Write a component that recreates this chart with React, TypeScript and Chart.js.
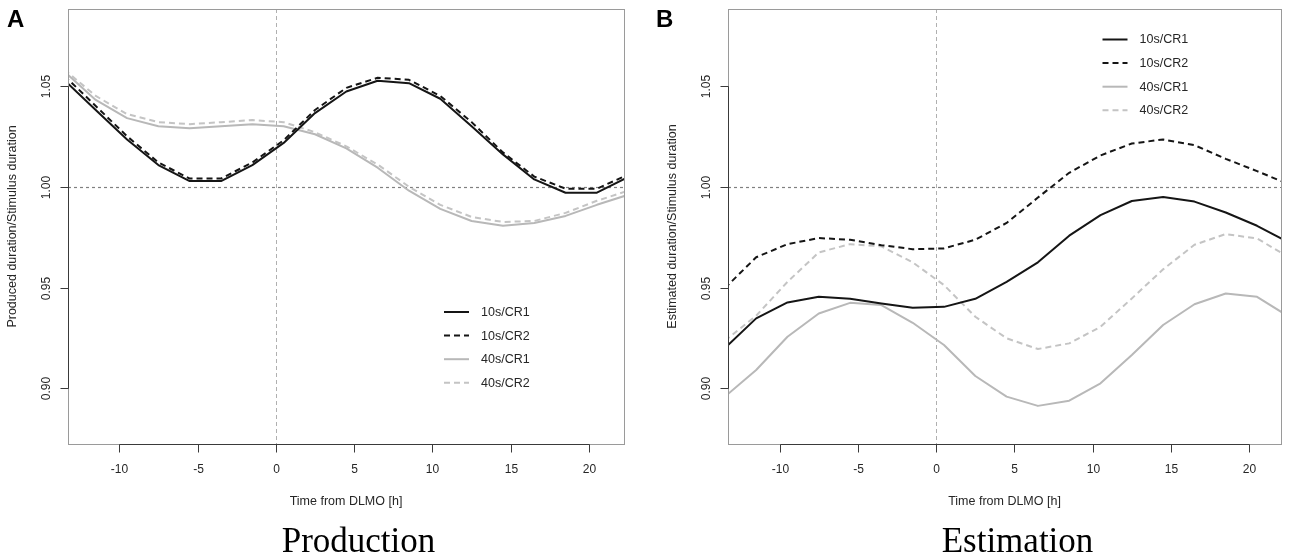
import { useEffect, useRef } from "react";
import Chart from "chart.js/auto";

// hours relative to DLMO where the fitted curves have their vertices
const hours = [-13.5, -11.5, -9.5, -7.5, -5.5, -3.5, -1.5, 0.5, 2.5, 4.5, 6.5, 8.5, 10.5, 12.5, 14.5, 16.5, 18.5, 20.5, 22.5];

const seriesLabels = ["10s/CR1", "10s/CR2", "40s/CR1", "40s/CR2"];

// Production panel (A)
const prod10CR1 = [1.0528, 1.038, 1.0234, 1.0107, 1.0028, 1.0028, 1.0107, 1.0217, 1.0365, 1.0472, 1.0525, 1.0513, 1.0436, 1.030, 1.016, 1.0036, 0.997, 0.997, 1.0048];
const prod10CR2 = [1.055, 1.040, 1.025, 1.012, 1.004, 1.004, 1.012, 1.023, 1.038, 1.049, 1.054, 1.053, 1.045, 1.032, 1.017, 1.005, 0.999, 0.999, 1.006];
const prod40CR1 = [1.057, 1.043, 1.034, 1.030, 1.029, 1.030, 1.031, 1.030, 1.026, 1.019, 1.0094, 0.998, 0.989, 0.983, 0.9806, 0.982, 0.9855, 0.991, 0.996];
const prod40CR2 = [1.058, 1.045, 1.036, 1.032, 1.031, 1.032, 1.033, 1.032, 1.027, 1.020, 1.011, 1.000, 0.991, 0.985, 0.9825, 0.983, 0.987, 0.993, 0.998];

// Estimation panel (B)
const est10CR1 = [0.920, 0.9347, 0.9426, 0.9454, 0.9444, 0.9421, 0.940, 0.9404, 0.9444, 0.9528, 0.9625, 0.9757, 0.9859, 0.9929, 0.9949, 0.9926, 0.9872, 0.9806, 0.9724];
const est10CR2 = [0.9497, 0.965, 0.9715, 0.9745, 0.9737, 0.971, 0.969, 0.9694, 0.9737, 0.982, 0.9946, 1.0069, 1.0155, 1.0214, 1.0234, 1.0206, 1.0138, 1.0077, 1.0013];
const est40CR1 = [0.8959, 0.9091, 0.9256, 0.9371, 0.9424, 0.9413, 0.9325, 0.9215, 0.9061, 0.8959, 0.8913, 0.8939, 0.9025, 0.9165, 0.9314, 0.9417, 0.947, 0.9454, 0.9357];
const est40CR2 = [0.9236, 0.936, 0.9528, 0.9674, 0.9715, 0.9704, 0.9625, 0.9512, 0.9355, 0.9248, 0.9195, 0.9223, 0.9305, 0.9446, 0.959, 0.9712, 0.9765, 0.9743, 0.9652];

const xTicks = [-10, -5, 0, 5, 10, 15, 20];
const xTickLabels = ["-10", "-5", "0", "5", "10", "15", "20"];
const yTicks = [0.9, 0.95, 1.0, 1.05];
const yTickLabels = ["0.90", "0.95", "1.00", "1.05"];

const seriesStyles = [
  { color: "#151515", dash: [] },
  { color: "#151515", dash: [6, 4] },
  { color: "#b8b8b8", dash: [] },
  { color: "#c4c4c4", dash: [6, 4] },
];

const SANS = '"Liberation Sans", Arial, Helvetica, sans-serif';

const rStylePlugin = {
  id: "rStyle",
  beforeDatasetsDraw(chart, _args, o) {
    const { ctx, chartArea: a, scales } = chart;
    ctx.save();
    ctx.beginPath();
    ctx.rect(a.left, a.top, a.width, a.height);
    ctx.clip();
    const x0 = Math.round(scales.x.getPixelForValue(0)) + 0.5;
    ctx.strokeStyle = "#b0b0b0";
    ctx.lineWidth = 1;
    ctx.setLineDash([4, 3]);
    ctx.beginPath();
    ctx.moveTo(x0, a.top);
    ctx.lineTo(x0, a.bottom);
    ctx.stroke();
    const y1 = Math.round(scales.y.getPixelForValue(1)) + 0.5;
    ctx.strokeStyle = "#808080";
    ctx.lineWidth = 1.2;
    ctx.setLineDash([3, 3]);
    ctx.beginPath();
    ctx.moveTo(a.left, y1);
    ctx.lineTo(a.right, y1);
    ctx.stroke();
    ctx.restore();
  },
  afterDraw(chart, _args, o) {
    const { ctx, chartArea: a, scales } = chart;
    const xs = scales.x;
    const ys = scales.y;
    const L = Math.round(a.left) + 0.5;
    const R = Math.round(a.right) + 0.5;
    const T = Math.round(a.top) + 0.5;
    const B = Math.round(a.bottom) + 0.5;
    ctx.save();
    ctx.setLineDash([]);

    // box
    ctx.strokeStyle = "#9a9a9a";
    ctx.lineWidth = 1;
    ctx.strokeRect(L, T, R - L, B - T);

    // x axis
    const xp = xTicks.map((v) => Math.round(xs.getPixelForValue(v)) + 0.5);
    ctx.strokeStyle = "#3a3a3a";
    ctx.beginPath();
    ctx.moveTo(xp[0], B);
    ctx.lineTo(xp[xp.length - 1], B);
    xp.forEach((px) => {
      ctx.moveTo(px, B);
      ctx.lineTo(px, B + 8);
    });
    ctx.stroke();

    // y axis
    const yp = yTicks.map((v) => Math.round(ys.getPixelForValue(v)) + 0.5);
    ctx.beginPath();
    ctx.moveTo(L, yp[0]);
    ctx.lineTo(L, yp[yp.length - 1]);
    yp.forEach((py) => {
      ctx.moveTo(L, py);
      ctx.lineTo(L - 8, py);
    });
    ctx.stroke();

    ctx.fillStyle = "#262626";
    ctx.font = `12px ${SANS}`;
    ctx.textAlign = "center";
    ctx.textBaseline = "middle";
    xp.forEach((px, i) => ctx.fillText(xTickLabels[i], px, a.bottom + 25.5));
    yp.forEach((py, i) => {
      ctx.save();
      ctx.translate(a.left - 21.5, py);
      ctx.rotate(-Math.PI / 2);
      ctx.fillText(yTickLabels[i], 0, 0);
      ctx.restore();
    });

    // axis titles
    ctx.font = `12.5px ${SANS}`;
    ctx.fillText(o.xTitle, (a.left + a.right) / 2, a.bottom + 57.5);
    ctx.save();
    ctx.translate(a.left - 55, (a.top + a.bottom) / 2);
    ctx.rotate(-Math.PI / 2);
    ctx.fillText(o.yTitle, 0, 0);
    ctx.restore();

    // legend
    ctx.textAlign = "left";
    ctx.font = `12.5px ${SANS}`;
    chart.data.datasets.forEach((ds, i) => {
      const ly = o.legendY + i * 23.6;
      ctx.strokeStyle = ds.borderColor;
      ctx.lineWidth = ds.borderWidth;
      ctx.setLineDash(ds.borderDash || []);
      ctx.beginPath();
      ctx.moveTo(o.legendX, ly);
      ctx.lineTo(o.legendX + 25, ly);
      ctx.stroke();
      ctx.fillStyle = "#262626";
      ctx.fillText(ds.label, o.legendX + 37, ly + 0.5);
    });
    ctx.setLineDash([]);

    // panel letter and caption
    ctx.fillStyle = "#000";
    ctx.textBaseline = "alphabetic";
    ctx.font = `bold 24px ${SANS}`;
    ctx.fillText(o.letter, o.letterX, 26.5);
    ctx.textAlign = "center";
    ctx.font = `35px "Liberation Serif", "Times New Roman", serif`;
    ctx.fillText(o.caption, o.captionX, 552);
    ctx.restore();
  },
};

const yMin = 0.8724;
const yMax = 1.0881;

function PanelChart({ series, xMin, xMax, padding, opts }) {
  const canvasRef = useRef<HTMLCanvasElement>(null);

  useEffect(() => {
    const ctx = canvasRef.current?.getContext("2d");
    if (!ctx) return;
    const chart = new Chart(ctx, {
      type: "line",
      data: {
        datasets: series.map((values, i) => ({
          label: seriesLabels[i],
          data: hours.map((h, j) => ({ x: h, y: values[j] })),
          borderColor: seriesStyles[i].color,
          borderDash: seriesStyles[i].dash,
          borderWidth: 2,
          borderJoinStyle: "round",
          pointRadius: 0,
          tension: 0,
          fill: false,
          clip: 0,
        })),
      },
      options: {
        responsive: false,
        animation: false,
        events: [],
        layout: { padding },
        scales: {
          x: { type: "linear", display: false, min: xMin, max: xMax },
          y: { type: "linear", display: false, min: yMin, max: yMax },
        },
        plugins: {
          legend: { display: false },
          tooltip: { enabled: false },
          rStyle: opts,
        },
      },
      plugins: [rStylePlugin],
    });
    return () => chart.destroy();
  }, []);

  return <canvas ref={canvasRef} width={645} height={557} />;
}

export default function App() {
  return (
    <div
      style={{
        position: "fixed",
        left: 0,
        top: 0,
        width: 1290,
        height: 557,
        background: "#fff",
        overflow: "hidden",
      }}
    >
      <div style={{ position: "absolute", left: 0, top: 0, width: 645, height: 557 }}>
        <PanelChart
          series={[prod10CR1, prod10CR2, prod40CR1, prod40CR2]}
          xMin={-13.27}
          xMax={22.23}
          padding={{ left: 68, top: 9, right: 21, bottom: 113 }}
          opts={{
            xTitle: "Time from DLMO [h]",
            yTitle: "Produced duration/Stimulus duration",
            legendX: 444,
            legendY: 312,
            letter: "A",
            letterX: 7,
            caption: "Production",
            captionX: 358.5,
          }}
        />
      </div>
      <div style={{ position: "absolute", left: 645, top: 0, width: 645, height: 557 }}>
        <PanelChart
          series={[est10CR1, est10CR2, est40CR1, est40CR2]}
          xMin={-13.3}
          xMax={22.03}
          padding={{ left: 83, top: 9, right: 9, bottom: 113 }}
          opts={{
            xTitle: "Time from DLMO [h]",
            yTitle: "Estimated duration/Stimulus duration",
            legendX: 457.5,
            legendY: 39.5,
            letter: "B",
            letterX: 11,
            caption: "Estimation",
            captionX: 372.5,
          }}
        />
      </div>
    </div>
  );
}
